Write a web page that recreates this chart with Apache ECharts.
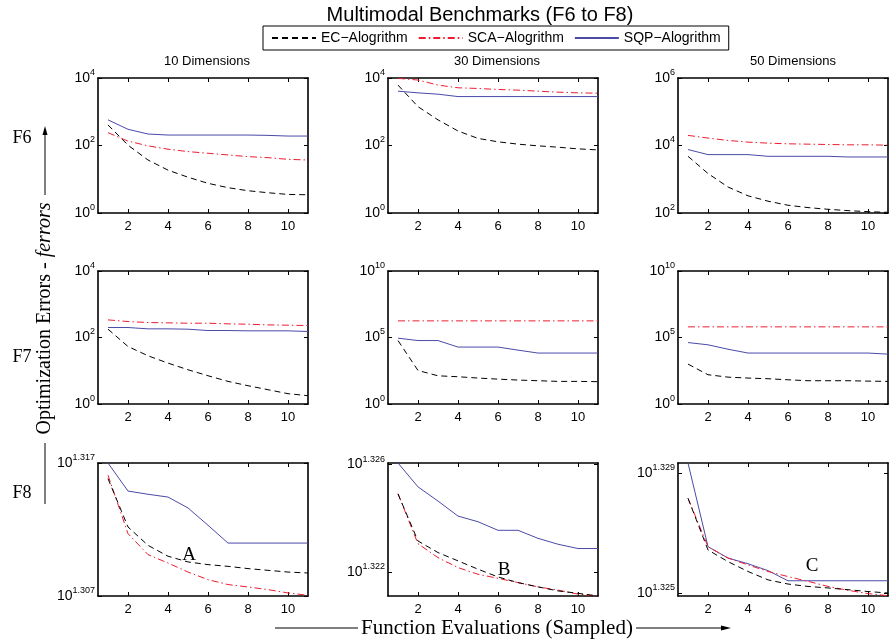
<!DOCTYPE html>
<html>
<head>
    <meta charset="utf-8">
    <script type="text/javascript" src="https://cdn.jsdelivr.net/npm/echarts@6/dist/echarts.min.js"></script>
    <title>multimodal_benchmarks</title>
    <style>
        html, body { margin: 0; padding: 0; background: #fff; }
        #main { width: 894px; height: 640px; }
    </style>
</head>
<body>
<div id="main"></div>
<script type="text/javascript">
    // sampled function evaluations (x axis)
    var evals = [1, 2, 3, 4, 5, 6, 7, 8, 9, 10, 11];
    var xTicks = [2, 4, 6, 8, 10];
    var algos = ['EC\u2212Alogrithm', 'SCA\u2212Alogrithm', 'SQP\u2212Alogrithm'];
    var dims = ['10 Dimensions', '30 Dimensions', '50 Dimensions'];
    var funcs = ['F6', 'F7', 'F8'];

    // all values are log10 of the error

    // F6
    var f6d10_ec  = [2.61, 2.01, 1.57, 1.27, 1.06, 0.88, 0.75, 0.66, 0.60, 0.55, 0.54];
    var f6d10_sca = [2.38, 2.13, 1.99, 1.89, 1.82, 1.77, 1.72, 1.67, 1.64, 1.59, 1.57];
    var f6d10_sqp = [2.76, 2.48, 2.34, 2.31, 2.31, 2.31, 2.31, 2.31, 2.30, 2.28, 2.28];

    var f6d30_ec  = [3.79, 3.15, 2.76, 2.43, 2.21, 2.11, 2.04, 1.99, 1.95, 1.90, 1.87];
    var f6d30_sca = [3.99, 3.94, 3.79, 3.71, 3.69, 3.66, 3.64, 3.61, 3.58, 3.56, 3.55];
    var f6d30_sqp = [3.61, 3.56, 3.52, 3.45, 3.45, 3.45, 3.45, 3.45, 3.45, 3.45, 3.45];

    var f6d50_ec  = [3.68, 3.17, 2.77, 2.51, 2.35, 2.23, 2.16, 2.11, 2.07, 2.04, 2.02];
    var f6d50_sca = [4.30, 4.22, 4.15, 4.10, 4.07, 4.05, 4.04, 4.03, 4.02, 4.02, 4.01];
    var f6d50_sqp = [3.88, 3.73, 3.73, 3.73, 3.68, 3.68, 3.68, 3.68, 3.66, 3.66, 3.66];

    // F7
    var f7d10_ec  = [2.25, 1.73, 1.45, 1.23, 1.03, 0.85, 0.68, 0.55, 0.43, 0.31, 0.25];
    var f7d10_sca = [2.53, 2.48, 2.45, 2.44, 2.43, 2.43, 2.41, 2.40, 2.38, 2.37, 2.36];
    var f7d10_sqp = [2.30, 2.30, 2.26, 2.26, 2.25, 2.21, 2.21, 2.20, 2.20, 2.20, 2.18];

    var f7d30_ec  = [4.77, 2.52, 2.12, 2.05, 1.95, 1.87, 1.80, 1.75, 1.70, 1.70, 1.68];
    var f7d30_sca = [6.25, 6.25, 6.25, 6.25, 6.25, 6.25, 6.25, 6.25, 6.25, 6.25, 6.25];
    var f7d30_sqp = [4.95, 4.77, 4.77, 4.28, 4.28, 4.28, 4.05, 3.83, 3.83, 3.83, 3.83];

    var f7d50_ec  = [3.00, 2.20, 2.02, 1.95, 1.90, 1.82, 1.75, 1.75, 1.75, 1.72, 1.70];
    var f7d50_sca = [5.80, 5.80, 5.80, 5.80, 5.80, 5.80, 5.80, 5.80, 5.80, 5.80, 5.80];
    var f7d50_sqp = [4.62, 4.45, 4.12, 3.83, 3.83, 3.83, 3.83, 3.83, 3.83, 3.83, 3.75];

    // F8
    var f8d10_ec  = [1.31583, 1.31219, 1.31081, 1.30999, 1.30956, 1.30936, 1.30923, 1.30906, 1.30893, 1.30880, 1.30873];
    var f8d10_sca = [1.31608, 1.31169, 1.31011, 1.30948, 1.30880, 1.30823, 1.30786, 1.30768, 1.30748, 1.30723, 1.30705];
    var f8d10_sqp = [1.31700, 1.31489, 1.31465, 1.31444, 1.31362, 1.31232, 1.31098, 1.31098, 1.31098, 1.31098, 1.31098];

    var f8d30_ec  = [1.32491, 1.32315, 1.32272, 1.32241, 1.32210, 1.32181, 1.32160, 1.32144, 1.32129, 1.32120, 1.32110];
    var f8d30_sca = [1.32491, 1.32305, 1.32253, 1.32216, 1.32191, 1.32176, 1.32160, 1.32144, 1.32132, 1.32117, 1.32110];
    var f8d30_sqp = [1.32606, 1.32517, 1.32464, 1.32408, 1.32387, 1.32355, 1.32355, 1.32325, 1.32303, 1.32287, 1.32287];

    var f8d50_ec  = [1.32817, 1.32644, 1.32605, 1.32572, 1.32544, 1.32530, 1.32522, 1.32517, 1.32511, 1.32505, 1.32500];
    var f8d50_sca = [1.32817, 1.32655, 1.32617, 1.32594, 1.32572, 1.32555, 1.32539, 1.32522, 1.32509, 1.32498, 1.32491];
    var f8d50_sqp = [1.32935, 1.32655, 1.32617, 1.32598, 1.32575, 1.32541, 1.32541, 1.32541, 1.32541, 1.32541, 1.32541];

    // y tick exponents of each panel
    var yTicks = [
        [[0, 2, 4], [0, 2, 4], [2, 4, 6]],
        [[0, 2, 4], [0, 5, 10], [0, 5, 10]],
        [[1.307, 1.317], [1.322, 1.326], [1.325, 1.329]]
    ];
    var yRange = [
        [[0, 4], [0, 4], [2, 6]],
        [[0, 4], [0, 10], [0, 10]],
        [[1.307, 1.317], [1.3211, 1.32606], [1.3249, 1.32935]]
    ];
    var panelData = [
        [[f6d10_ec, f6d10_sca, f6d10_sqp], [f6d30_ec, f6d30_sca, f6d30_sqp], [f6d50_ec, f6d50_sca, f6d50_sqp]],
        [[f7d10_ec, f7d10_sca, f7d10_sqp], [f7d30_ec, f7d30_sca, f7d30_sqp], [f7d50_ec, f7d50_sca, f7d50_sqp]],
        [[f8d10_ec, f8d10_sca, f8d10_sqp], [f8d30_ec, f8d30_sca, f8d30_sqp], [f8d50_ec, f8d50_sca, f8d50_sqp]]
    ];

    var colLeft = [98, 388, 678];
    var rowTop = [78, 271, 463];
    var rowH = [135, 133, 133];
    var panelW = 210;

    var lineStyles = [
        {color: '#000000', width: 1, type: [6, 4]},
        {color: '#ee1c30', width: 1, type: [7, 3, 1.5, 3]},
        {color: '#4a4aa8', width: 1, type: 'solid'}
    ];

    var sans = 'Liberation Sans, Arial, sans-serif';
    var serif = 'Liberation Serif, Times New Roman, serif';

    var grids = [], xAxes = [], yAxes = [], series = [];
    var axisLineStyle = {color: '#000', width: 1.6};

    for (var r = 0; r < 3; r++) {
        for (var c = 0; c < 3; c++) {
            var g = grids.length;
            grids.push({left: colLeft[c], top: rowTop[r], width: panelW, height: rowH[r], containLabel: false});
            var isF8 = r === 2;
            var fmt = (function (f8) {
                return function (v) {
                    var e = f8 ? v.toFixed(3) : String(Math.round(v));
                    return '{b|10}{s|' + e + '}';
                };
            })(isF8);
            xAxes.push({
                type: 'value', gridIndex: g, min: 0.5, max: 11, position: 'bottom',
                axisLine: {onZero: false, lineStyle: axisLineStyle},
                axisTick: {inside: true, length: 4, customValues: xTicks, lineStyle: {color: '#000'}},
                axisLabel: {customValues: xTicks, color: '#000', fontFamily: sans, fontSize: 13, margin: 7},
                splitLine: {show: false}
            });
            xAxes.push({
                type: 'value', gridIndex: g, min: 0.5, max: 11, position: 'top',
                axisLine: {onZero: false, lineStyle: axisLineStyle},
                axisTick: {inside: true, length: 4, customValues: xTicks, lineStyle: {color: '#000'}},
                axisLabel: {show: false},
                splitLine: {show: false}
            });
            yAxes.push({
                type: 'value', gridIndex: g, min: yRange[r][c][0], max: yRange[r][c][1], position: 'left',
                axisLine: {onZero: false, lineStyle: axisLineStyle},
                axisTick: {inside: true, length: 4, customValues: yTicks[r][c], lineStyle: {color: '#000'}},
                axisLabel: {
                    customValues: yTicks[r][c], formatter: fmt, margin: 3,
                    rich: {
                        b: {fontFamily: sans, fontSize: 14, color: '#000'},
                        s: {fontFamily: sans, fontSize: 9, color: '#000', padding: [0, 0, 11, 0]}
                    }
                },
                splitLine: {show: false}
            });
            yAxes.push({
                type: 'value', gridIndex: g, min: yRange[r][c][0], max: yRange[r][c][1], position: 'right',
                axisLine: {onZero: false, lineStyle: axisLineStyle},
                axisTick: {inside: true, length: 4, customValues: yTicks[r][c], lineStyle: {color: '#000'}},
                axisLabel: {show: false},
                splitLine: {show: false}
            });
            for (var a = 0; a < 3; a++) {
                var vals = panelData[r][c][a];
                series.push({
                    name: algos[a], type: 'line',
                    xAxisIndex: g * 2, yAxisIndex: g * 2,
                    data: evals.map(function (x, i) { return [x, vals[i]]; }),
                    showSymbol: false, symbol: 'none', smooth: false,
                    lineStyle: lineStyles[a], itemStyle: {color: lineStyles[a].color},
                    silent: true, animation: false, z: 3 - a
                });
            }
        }
    }

    var graphics = [
        {type: 'text', x: 480, y: 15, style: {text: 'Multimodal Benchmarks (F6 to F8)', font: '20px ' + sans, fill: '#000', textAlign: 'center', textVerticalAlign: 'middle'}},
        {type: 'text', x: 45, y: 318.5, rotation: Math.PI / 2, style: {
            text: '{a|Optimization Errors - }{b|ferrors}', textAlign: 'center', textVerticalAlign: 'middle',
            rich: {a: {fontFamily: serif, fontSize: 20, fill: '#000'}, b: {fontFamily: serif, fontSize: 20, fontStyle: 'italic', fill: '#000'}}
        }},
        {type: 'line', shape: {x1: 45, y1: 195, x2: 45, y2: 130}, style: {stroke: '#000', lineWidth: 1}},
        {type: 'polygon', shape: {points: [[45, 126], [42.5, 135], [47.5, 135]]}, style: {fill: '#000'}},
        {type: 'line', shape: {x1: 45, y1: 443, x2: 45, y2: 504}, style: {stroke: '#000', lineWidth: 1}},
        {type: 'text', x: 497, y: 628, style: {text: 'Function Evaluations (Sampled)', font: '21px ' + serif, fill: '#000', textAlign: 'center', textVerticalAlign: 'middle'}},
        {type: 'line', shape: {x1: 275, y1: 628, x2: 358, y2: 628}, style: {stroke: '#000', lineWidth: 1}},
        {type: 'line', shape: {x1: 636, y1: 628, x2: 726, y2: 628}, style: {stroke: '#000', lineWidth: 1}},
        {type: 'polygon', shape: {points: [[731, 628], [721, 625.5], [721, 630.5]]}, style: {fill: '#000'}},
        {type: 'text', x: 189, y: 555, style: {text: 'A', font: '19px ' + serif, fill: '#000', textAlign: 'center', textVerticalAlign: 'middle'}},
        {type: 'text', x: 504, y: 570, style: {text: 'B', font: '19px ' + serif, fill: '#000', textAlign: 'center', textVerticalAlign: 'middle'}},
        {type: 'text', x: 812, y: 566, style: {text: 'C', font: '19px ' + serif, fill: '#000', textAlign: 'center', textVerticalAlign: 'middle'}}
    ];
    var dimX = [207, 497, 793];
    dims.forEach(function (d, i) {
        graphics.push({type: 'text', x: dimX[i], y: 61, style: {text: d, font: '13px ' + sans, fill: '#000', textAlign: 'center', textVerticalAlign: 'middle'}});
    });
    var funcY = [138, 357, 493];
    funcs.forEach(function (f, i) {
        graphics.push({type: 'text', x: 22, y: funcY[i], style: {text: f, font: '18px ' + serif, fill: '#000', textAlign: 'center', textVerticalAlign: 'middle'}});
    });

    var chart = echarts.init(document.getElementById('main'), null, {renderer: 'canvas'});
    var option = {
        animation: false,
        backgroundColor: '#fff',
        legend: {
            data: algos, left: 263, top: 26,
            padding: [5, 8, 5, 8], itemGap: 10, itemWidth: 44, itemHeight: 12,
            borderColor: '#000', borderWidth: 1,
            itemStyle: {opacity: 0},
            textStyle: {fontFamily: sans, fontSize: 14, color: '#000'},
            selectedMode: false
        },
        grid: grids,
        xAxis: xAxes,
        yAxis: yAxes,
        series: series,
        graphic: graphics
    };
    chart.setOption(option);
</script>
</body>
</html>
